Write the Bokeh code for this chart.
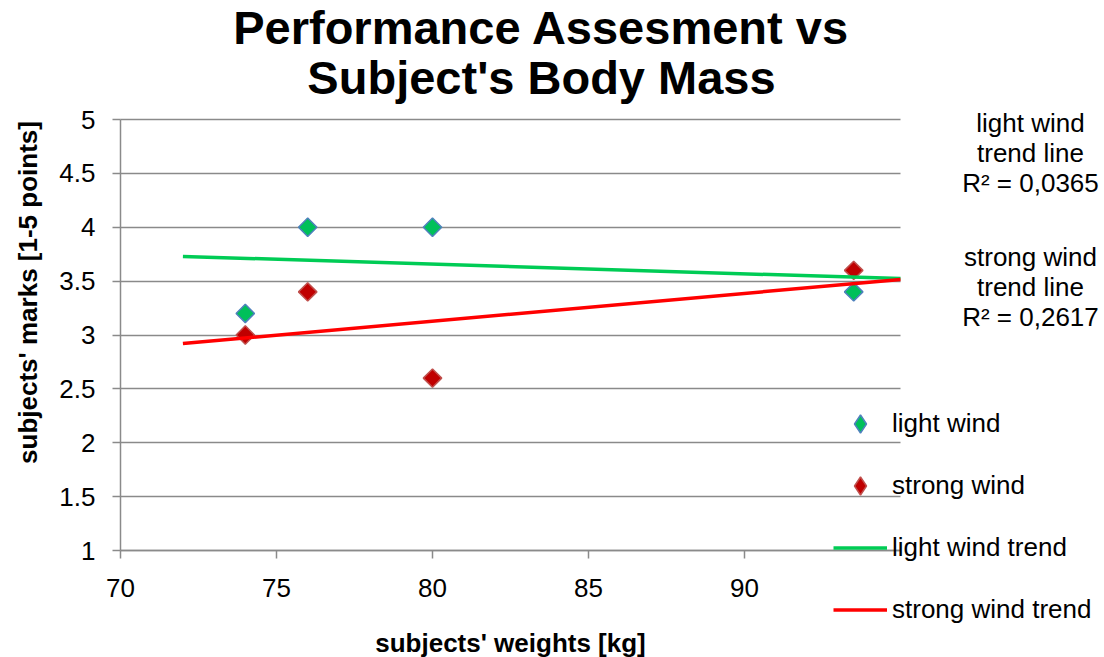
import numpy as np
from bokeh.plotting import figure
from bokeh.models import (FixedTicker, NumeralTickFormatter, Label, Legend, LegendItem,
                          LinearAxis, Grid, Range1d)
from bokeh.embed import file_html
from bokeh.resources import INLINE

# ---- data ----
weights = [74, 76, 80, 93.5]
light_wind = [3.2, 4.0, 4.0, 3.4]
strong_wind = [3.0, 3.4, 2.6, 3.6]
trend_x = [72, 95]
x_ticks = [70, 75, 80, 85, 90]
y_ticks = [1, 1.5, 2, 2.5, 3, 3.5, 4, 4.5, 5]
title_lines = ["Performance Assesment vs", "Subject's Body Mass"]
x_label = "subjects' weights [kg]"
y_label = "subjects' marks [1-5 points]"
series_names = ["light wind", "strong wind", "light wind trend", "strong wind trend"]

# ---- layout (canvas px) ----
W, H = 1104, 657
X0, X1 = 70, 95          # axis extent
Y0, Y1 = 1, 5
PX_L, PX_R = 120, 900    # where X0 / X1 sit
PY_T, PY_B = 119, 550    # where Y1 / Y0 sit
SX = (PX_R - PX_L) / (X1 - X0)
SY = (PY_B - PY_T) / (Y1 - Y0)
XS, XE = X0 - PX_L / SX, X1 + (W - PX_R) / SX
YS, YE = Y0 - (H - PY_B) / SY, Y1 + PY_T / SY
FONT = "Liberation Sans"
GRID = "#8a8a8a"
BASE_SHIFT = 0.39        # em; rendered alphabetic baseline sits this much below y


def fx(px):
    return XS + px / SX


def fy(py):
    return YE - py / SY


def fy_base(py, size):
    return fy(py - BASE_SHIFT * size)


def fit(x, y):
    slope, icpt = np.polyfit(x, y, 1)
    r2 = np.corrcoef(x, y)[0, 1] ** 2
    return [slope * t + icpt for t in trend_x], r2


light_trend, light_r2 = fit(weights, light_wind)
strong_trend, strong_r2 = fit(weights, strong_wind)

p = figure(width=W, height=H, x_range=Range1d(XS, XE), y_range=Range1d(YS, YE),
           x_axis_location=None, y_axis_location=None,
           output_backend="svg", toolbar_location=None,
           min_border=0, min_border_left=0, min_border_right=0,
           min_border_top=0, min_border_bottom=0)
p.title.visible = False
p.outline_line_color = None
p.background_fill_color = "white"
p.border_fill_color = "white"
p.center = []

ygrid = Grid(dimension=1, ticker=FixedTicker(ticks=y_ticks), bounds=(Y0, Y1),
             cross_bounds=(X0, X1), grid_line_color=GRID, grid_line_width=1.5)
p.add_layout(ygrid, "center")

xaxis = LinearAxis(fixed_location=Y0, bounds=(X0, X1), ticker=FixedTicker(ticks=x_ticks))
yaxis = LinearAxis(fixed_location=X0, bounds=(Y0, Y1), ticker=FixedTicker(ticks=y_ticks),
                   formatter=NumeralTickFormatter(format="0.[0]"))
for ax in (xaxis, yaxis):
    ax.axis_line_color = GRID
    ax.axis_line_width = 1.5
    ax.major_tick_line_color = GRID
    ax.major_tick_line_width = 1.5
    ax.major_tick_in = 0
    ax.major_tick_out = 8
    ax.minor_tick_line_color = None
    ax.major_label_text_font = FONT
    ax.major_label_text_font_size = "26px"
    ax.major_label_text_color = "black"
xaxis.major_label_standoff = 20
xaxis.axis_label = x_label
xaxis.axis_label_text_font = FONT
xaxis.axis_label_text_font_size = "26px"
xaxis.axis_label_text_font_style = "bold"
xaxis.axis_label_text_color = "black"
xaxis.axis_label_standoff = 28
yaxis.major_label_standoff = 17
p.add_layout(xaxis, "below")
p.add_layout(yaxis, "left")

LIGHT_FILL, LIGHT_EDGE = "#00C05A", "#4F81BD"
STRONG_FILL, STRONG_EDGE = "#C00000", "#C0504D"

# legend swatches: diamond-shaped, drawn beneath (and hidden by) the point markers
k_light = p.scatter(weights, light_wind, marker="diamond", size=8, fill_color=LIGHT_FILL,
                    line_color=LIGHT_EDGE, line_width=1.5)
k_strong = p.scatter(weights, strong_wind, marker="diamond", size=8, fill_color=STRONG_FILL,
                     line_color=STRONG_EDGE, line_width=1.5)

r_light = p.scatter(weights, light_wind, marker="square", angle=np.pi / 4, size=13,
                    fill_color=LIGHT_FILL, line_color=LIGHT_EDGE, line_width=1.5)
r_strong = p.scatter(weights, strong_wind, marker="square", angle=np.pi / 4, size=13,
                     fill_color=STRONG_FILL, line_color=STRONG_EDGE, line_width=1.5)
r_lt = p.line(trend_x, light_trend, line_color="#00CC55", line_width=3.5)
r_st = p.line(trend_x, strong_trend, line_color="#FF0000", line_width=3.5)

legend = Legend(items=[LegendItem(label=series_names[0], renderers=[k_light]),
                       LegendItem(label=series_names[1], renderers=[k_strong]),
                       LegendItem(label=series_names[2], renderers=[r_lt]),
                       LegendItem(label=series_names[3], renderers=[r_st])],
                location=(833, H - 632),
                glyph_width=54, glyph_height=45, label_height=45, label_width=10,
                spacing=17, padding=0, margin=0, label_standoff=5,
                label_text_font=FONT, label_text_font_size="26px",
                label_text_color="black",
                border_line_color=None, background_fill_alpha=0)
p.add_layout(legend)

# title
TITLE_SIZE = 47
for txt, base in zip(title_lines, [45, 95]):
    p.add_layout(Label(x=fx(541), y=fy_base(base, TITLE_SIZE), text=txt,
                       text_align="center", text_baseline="alphabetic", text_font=FONT,
                       text_font_size=f"{TITLE_SIZE}px", text_font_style="bold",
                       text_color="black"))

# y axis label
p.add_layout(Label(x=fx(27), y=fy(292), text=y_label, angle=np.pi / 2,
                   text_align="center", text_baseline="middle", text_font=FONT,
                   text_font_size="26px", text_font_style="bold", text_color="black"))


def r2_text(v):
    return "R\u00b2 = " + f"{v:.4f}".replace(".", ",")


ann = [("light wind", 133), ("trend line", 163), (r2_text(light_r2), 193),
       ("strong wind", 267), ("trend line", 297), (r2_text(strong_r2), 327)]
for txt, base in ann:
    p.add_layout(Label(x=fx(1030), y=fy_base(base, 26), text=txt, text_align="center",
                       text_baseline="alphabetic", text_font=FONT,
                       text_font_size="26px", text_color="black"))

open("out.html", "w").write(file_html(p, INLINE))
